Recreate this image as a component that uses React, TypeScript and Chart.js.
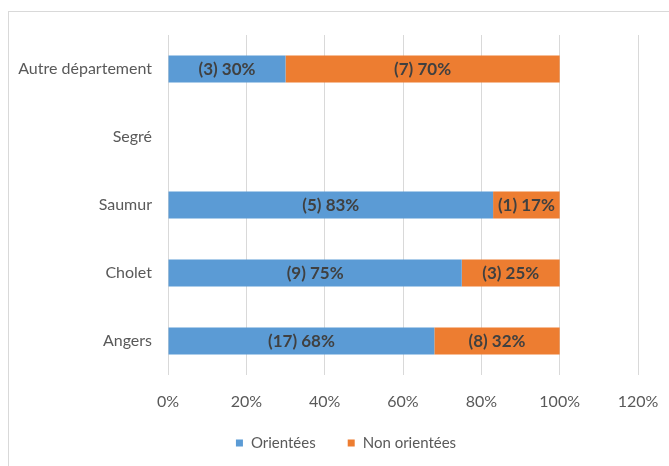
import React, { useEffect, useRef } from "react";
import { Chart, registerables } from "chart.js";

Chart.register(...registerables);

const categories = ["Autre département", "Segré", "Saumur", "Cholet", "Angers"];
const orientedPct = [30, 0, 83, 75, 68];
const orientedCount = [3, 0, 5, 9, 17];
const nonOrientedPct = [70, 0, 17, 25, 32];
const nonOrientedCount = [7, 0, 1, 3, 8];
const seriesNames = ["Orientées", "Non orientées"];
const seriesColors = ["#5B9BD5", "#ED7D31"];
const xTicks = [0, 20, 40, 60, 80, 100, 120];

const FONT = "Lato, 'Liberation Sans', sans-serif";

const dataLabelPlugin = {
  id: "dataLabels",
  afterDatasetsDraw(chart: any) {
    const ctx = chart.ctx;
    const counts = [orientedCount, nonOrientedCount];
    ctx.save();
    ctx.font = `bold 17px ${FONT}`;
    ctx.fillStyle = "#404040";
    ctx.textAlign = "center";
    ctx.textBaseline = "middle";
    chart.data.datasets.forEach((ds: any, di: number) => {
      const meta = chart.getDatasetMeta(di);
      meta.data.forEach((el: any, i: number) => {
        const v = ds.data[i];
        if (!v) return;
        const cx = (el.x + el.base) / 2;
        ctx.fillText(`(${counts[di][i]}) ${v}%`, cx, el.y + 1);
      });
    });
    ctx.restore();
  },
};

const legendPlugin = {
  id: "customLegend",
  afterDraw(chart: any) {
    const ctx = chart.ctx;
    ctx.save();
    ctx.font = `15px ${FONT}`;
    ctx.textBaseline = "middle";
    const box = 7;
    const gapBox = 8;
    const gapItem = 32;
    const widths = seriesNames.map((n) => ctx.measureText(n).width);
    const total = widths.reduce((a, w) => a + box + gapBox + w, 0) + gapItem * (seriesNames.length - 1);
    const cy = chart.chartArea.bottom + 68;
    let x = 346 - total / 2;
    seriesNames.forEach((n, i) => {
      ctx.fillStyle = seriesColors[i];
      ctx.fillRect(x, cy - box / 2, box, box);
      x += box + gapBox;
      ctx.fillStyle = "#595959";
      ctx.fillText(n, x, cy);
      x += widths[i] + gapItem;
    });
    ctx.restore();
  },
};

export default function App() {
  const ref = useRef<HTMLCanvasElement>(null);
  useEffect(() => {
    const chart = new Chart(ref.current!, {
      type: "bar",
      data: {
        labels: categories,
        datasets: seriesNames.map((name, i) => ({
          label: name,
          data: i === 0 ? orientedPct : nonOrientedPct,
          backgroundColor: seriesColors[i],
          barPercentage: 0.4,
          categoryPercentage: 1,
        })),
      },
      options: {
        indexAxis: "y",
        animation: false,
        responsive: false,
        maintainAspectRatio: false,
        layout: { padding: { top: 35, right: 31, left: 0, bottom: 54 } },
        scales: {
          x: {
            stacked: true,
            min: 0,
            max: 120,
            afterBuildTicks: (scale: any) => {
              scale.ticks = xTicks.map((v) => ({ value: v }));
            },
            afterFit: (scale: any) => {
              scale.height = 37;
              scale.paddingLeft = 0;
              scale.paddingRight = 0;
            },
            ticks: {
              callback: (v: any) => v + "%",
              color: "#595959",
              font: { family: FONT, size: 16 },
              padding: 17,
              maxRotation: 0,
            },
            grid: { color: "#d9d9d9", drawTicks: false },
            border: { display: false },
          },
          y: {
            stacked: true,
            afterFit: (scale: any) => {
              scale.width = 168;
            },
            ticks: {
              color: "#595959",
              font: { family: FONT, size: 16 },
              padding: 16,
            },
            grid: { display: false, drawTicks: false },
            border: { display: false },
          },
        },
        plugins: {
          legend: { display: false },
          tooltip: { enabled: false },
        },
      },
      plugins: [dataLabelPlugin, legendPlugin],
    } as any);
    return () => chart.destroy();
  }, []);
  return (
    <div style={{ position: "absolute", left: 0, top: 0, width: 669, height: 466, background: "#fff" }}>
      <div
        style={{
          position: "absolute",
          left: 8,
          top: 11,
          width: 661,
          height: 455,
          borderTop: "1px solid #d9d9d9",
          borderLeft: "1px solid #d9d9d9",
          boxSizing: "border-box",
        }}
      />
      <canvas ref={ref} width={669} height={466} style={{ position: "absolute", left: 0, top: 0 }} />
    </div>
  );
}
